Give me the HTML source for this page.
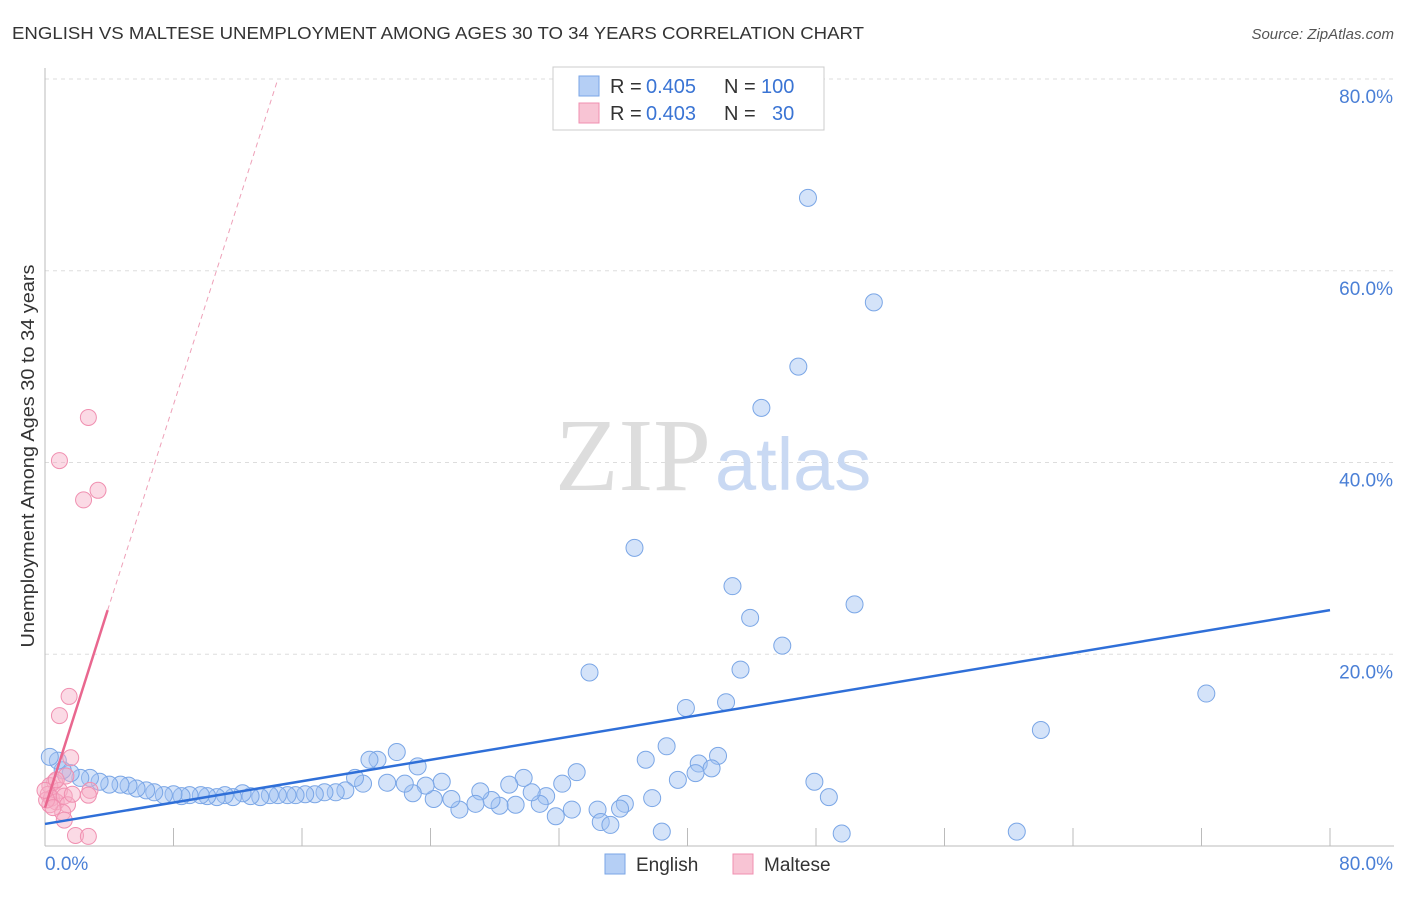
<!DOCTYPE html>
<html><head><meta charset="utf-8"><style>
body{margin:0;background:#fff;font-family:"Liberation Sans",sans-serif}
</style></head><body>
<svg width="1406" height="892" viewBox="0 0 1406 892" xmlns="http://www.w3.org/2000/svg" font-family="Liberation Sans, sans-serif">
<text x="12" y="39" font-size="17.5" fill="#333" textLength="852" lengthAdjust="spacingAndGlyphs">ENGLISH VS MALTESE UNEMPLOYMENT AMONG AGES 30 TO 34 YEARS CORRELATION CHART</text>
<text x="1394" y="39" font-size="15" fill="#555" font-style="italic" text-anchor="end">Source: ZipAtlas.com</text>
<g id="grid"></g>
<text x="555" y="490" font-size="104" font-family="Liberation Serif, serif" fill="#ddd">ZIP<tspan fill="#c9d9f3" font-family="Liberation Sans, sans-serif" font-size="74" dx="4">atlas</tspan></text>
<text transform="translate(34,456) rotate(-90)" font-size="18" fill="#333" text-anchor="middle" textLength="383" lengthAdjust="spacingAndGlyphs">Unemployment Among Ages 30 to 34 years</text>
<g id="marks"></g>
<g>
<rect x="553" y="67" width="271" height="63" fill="#fff" stroke="#ccc"/>
<rect x="579" y="76" width="20" height="20" fill="#b5cff5" stroke="#7aa6e6"/>
<text x="610" y="93" font-size="20" fill="#333">R =</text>
<text x="646" y="93" font-size="20" fill="#3a74d4">0.405</text>
<text x="724" y="93" font-size="20" fill="#333">N =</text>
<text x="761" y="93" font-size="20" fill="#3a74d4">100</text>
<rect x="579" y="103" width="20" height="20" fill="#f8c4d4" stroke="#f08fb0"/>
<text x="610" y="120" font-size="20" fill="#333">R =</text>
<text x="646" y="120" font-size="20" fill="#3a74d4">0.403</text>
<text x="724" y="120" font-size="20" fill="#333">N =</text>
<text x="772" y="120" font-size="20" fill="#3a74d4">30</text>
</g>
<g>
<rect x="605" y="854" width="20" height="20" fill="#b5cff5" stroke="#7aa6e6"/>
<text x="636" y="871" font-size="19" fill="#333">English</text>
<rect x="733" y="854" width="20" height="20" fill="#f8c4d4" stroke="#f08fb0"/>
<text x="764" y="871" font-size="19" fill="#333">Maltese</text>
</g>
</svg>
<script>
const yTicks=[20,40,60,80];
const yTickLabels=["20.0%","40.0%","60.0%","80.0%"];
const xTicks=[0,8,16,24,32,40,48,56,64,72,80];
const englishX=[47.5,51.6,46.9,44.6,36.7,42.8,50.4,43.9,45.9,33.9,43.3,72.3,42.4,39.9,62.0,38.7,41.9,40.7,37.4,41.5,40.5,39.4,47.9,48.8,37.8,36.1,34.4,34.6,35.2,35.8,38.4,49.6,60.5,33.1,32.2,32.8,31.8,31.2,30.8,30.3,29.8,28.9,29.3,28.3,27.8,27.1,26.8,25.8,25.3,24.7,24.2,23.7,23.2,22.9,22.4,21.9,21.3,20.7,20.2,19.8,19.3,18.7,18.1,17.4,16.8,16.2,15.6,15.1,14.5,14.0,13.4,12.8,12.3,11.7,11.2,10.7,10.1,9.7,9.0,8.5,8.0,7.4,6.8,6.3,5.7,5.2,4.7,4.0,3.4,2.8,2.2,1.6,1.1,0.8,0.3];
const englishY=[67.6,56.7,50.0,45.7,31.1,27.1,25.2,23.8,20.9,18.1,18.4,15.9,15.0,14.4,12.1,10.4,9.4,8.6,9.0,8.1,7.6,6.9,6.7,5.1,5.0,4.4,3.8,2.5,2.2,3.9,1.5,1.3,1.5,7.7,6.5,3.8,3.1,5.2,4.4,5.6,7.1,6.4,4.3,4.2,4.8,5.7,4.4,3.8,4.9,6.7,4.9,6.3,8.3,5.5,6.5,9.8,6.6,9.0,9.0,6.5,7.1,5.8,5.6,5.6,5.4,5.4,5.3,5.3,5.3,5.3,5.1,5.2,5.5,5.1,5.3,5.1,5.2,5.3,5.3,5.2,5.4,5.3,5.6,5.8,6.0,6.3,6.4,6.4,6.7,7.1,7.1,7.6,7.9,8.9,9.3];
const malteseX=[2.7,0.9,3.3,2.4,1.5,0.9,1.6,0.6,0.3,0.9,0.2,0.4,0.7,1.2,1.4,1.1,0.3,0.1,1.7,2.8,2.7,1.2,1.9,2.7,1.3,0.7,0.0,0.5];
const malteseY=[44.7,40.2,37.1,36.1,15.6,13.6,9.2,6.7,6.3,5.8,5.4,5.0,4.6,5.2,4.3,3.5,4.3,4.8,5.4,5.8,5.3,2.7,1.1,1.0,7.3,6.9,5.8,4.0];
const englishTrend=[[0,2.3],[80,24.6]];
const malteseTrendSolid=[[0,4.0],[3.9,24.6]];
const malteseTrendDash=[[3.9,24.6],[14.5,80]];
const NS="http://www.w3.org/2000/svg";
const sx=v=>45+v*(1285/80), sy=v=>846-v*(767/80);
function mk(t,a,p){const e=document.createElementNS(NS,t);for(const k in a)e.setAttribute(k,a[k]);p.appendChild(e);return e;}
const grid=document.getElementById('grid'), marks=document.getElementById('marks');
yTicks.forEach((t,i)=>{
 const l=mk('line',{x1:45,x2:1394,y1:sy(t),y2:sy(t),stroke:'#ddd','stroke-dasharray':'4,4'},grid);
 
 
 const tx=mk('text',{x:1393,y:sy(t)+24,'font-size':19,fill:'#4a7fd6','text-anchor':'end'},grid);
 tx.textContent=yTickLabels[i];
 
 
});
const ax=mk('line',{x1:45,x2:45,y1:68,y2:846,stroke:'#bbb'},grid);


const bx=mk('line',{x1:45,x2:1394,y1:846,y2:846,stroke:'#bbb'},grid);


xTicks.forEach(t=>{const l=mk('line',{x1:sx(t),x2:sx(t),y1:828,y2:846,stroke:'#bbb'},grid);
 
 });
[["0.0%",45,'start'],["80.0%",1393,'end']].forEach(a=>{const t=mk('text',{x:a[1],y:870,'font-size':19,fill:'#4a7fd6','text-anchor':a[2]},grid);t.textContent=a[0];
 
 });
englishX.forEach((x,i)=>{const c=mk('circle',{cx:sx(x),cy:sy(englishY[i]),r:8.5,fill:'rgba(160,192,242,0.45)',stroke:'#7aa6e6','stroke-width':1},marks);
 
 });
malteseX.forEach((x,i)=>{const c=mk('circle',{cx:sx(x),cy:sy(malteseY[i]),r:8,fill:'rgba(246,172,198,0.45)',stroke:'#f08fb0','stroke-width':1},marks);
 
 });
const l1=mk('line',{x1:sx(englishTrend[0][0]),y1:sy(englishTrend[0][1]),x2:sx(englishTrend[1][0]),y2:sy(englishTrend[1][1]),stroke:'#2f6fd8','stroke-width':2.5},marks);


const l2=mk('line',{x1:sx(malteseTrendSolid[0][0]),y1:sy(malteseTrendSolid[0][1]),x2:sx(malteseTrendSolid[1][0]),y2:sy(malteseTrendSolid[1][1]),stroke:'#e9678f','stroke-width':2.5},marks);


const l3=mk('line',{x1:sx(malteseTrendDash[0][0]),y1:sy(malteseTrendDash[0][1]),x2:sx(malteseTrendDash[1][0]),y2:sy(malteseTrendDash[1][1]),stroke:'#eea0b8','stroke-width':1,'stroke-dasharray':'5,4'},marks);


</script>
</body></html>
